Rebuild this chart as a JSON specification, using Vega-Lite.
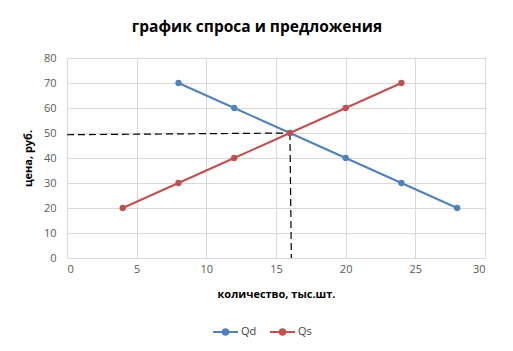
{
  "$schema": "https://vega.github.io/schema/vega-lite/v6.json",
  "autosize": "none",
  "width": 418,
  "height": 200,
  "padding": {"left": 67, "top": 58, "right": 28, "bottom": 93},
  "background": "white",
  "config": {
    "font": "Open Sans",
    "view": {"stroke": null},
    "axis": {
      "grid": true,
      "gridColor": "#D9D9D9",
      "gridWidth": 1,
      "domain": false,
      "ticks": false,
      "labelColor": "#595959",
      "labelFontSize": 11,
      "labelFont": "Open Sans",
      "titleFont": "Open Sans",
      "titleColor": "#000000",
      "titleFontSize": 11,
      "titleFontWeight": "bold"
    }
  },
  "title": {
    "text": "график спроса и предложения",
    "fontSize": 15.5,
    "fontWeight": "bold",
    "font": "Open Sans",
    "color": "#000000",
    "anchor": "middle",
    "dx": -19,
    "offset": 17
  },
  "datasets": {
    "series": [
      {"series": "Qd", "q": 8, "p": 70},
      {"series": "Qd", "q": 12, "p": 60},
      {"series": "Qd", "q": 16, "p": 50},
      {"series": "Qd", "q": 20, "p": 40},
      {"series": "Qd", "q": 24, "p": 30},
      {"series": "Qd", "q": 28, "p": 20},
      {"series": "Qs", "q": 4, "p": 20},
      {"series": "Qs", "q": 8, "p": 30},
      {"series": "Qs", "q": 12, "p": 40},
      {"series": "Qs", "q": 16, "p": 50},
      {"series": "Qs", "q": 20, "p": 60},
      {"series": "Qs", "q": 24, "p": 70}
    ],
    "guides": [
      {"seg": "h", "q": 0, "p": 49.3},
      {"seg": "h", "q": 16, "p": 50},
      {"seg": "v", "q": 16, "p": 50},
      {"seg": "v", "q": 16.1, "p": 0}
    ]
  },
  "encoding": {
    "x": {
      "field": "q",
      "type": "quantitative",
      "scale": {"domain": [0, 30], "nice": false},
      "axis": {"values": [0, 5, 10, 15, 20, 25, 30], "title": "количество, тыс.шт.", "labelPadding": 5, "titlePadding": 14}
    },
    "y": {
      "field": "p",
      "type": "quantitative",
      "scale": {"domain": [0, 80], "nice": false},
      "axis": {"values": [0, 10, 20, 30, 40, 50, 60, 70, 80], "title": "цена, руб.", "labelPadding": 11, "titlePadding": 10, "labelOverlap": false}
    }
  },
  "layer": [
    {
      "data": {"name": "guides"},
      "mark": {"type": "line", "color": "#000000", "strokeDash": [7, 4], "strokeWidth": 1.2},
      "encoding": {
        "detail": {"field": "seg"}
      }
    },
    {
      "data": {"name": "series"},
      "mark": {"type": "line", "strokeWidth": 2, "point": {"size": 40, "filled": true, "opacity": 1}},
      "encoding": {
        "color": {
          "field": "series",
          "type": "nominal",
          "scale": {"domain": ["Qd", "Qs"], "range": ["#4F81BD", "#C0504D"]},
          "legend": {
            "title": null,
            "orient": "none",
            "direction": "horizontal",
            "legendX": 145,
            "legendY": 260,
            "symbolType": "M-1,0L1,0M0.22,0A0.22,0.22 0 1,1 -0.22,0A0.22,0.22 0 1,1 0.22,0Z",
            "symbolSize": 625,
            "symbolStrokeWidth": 2,
            "symbolOpacity": 1,
            "labelFontSize": 11,
            "labelColor": "#404040",
            "labelOffset": 2,
            "columnPadding": 9,
            "labelFont": "Open Sans"
          }
        }
      }
    }
  ]
}
